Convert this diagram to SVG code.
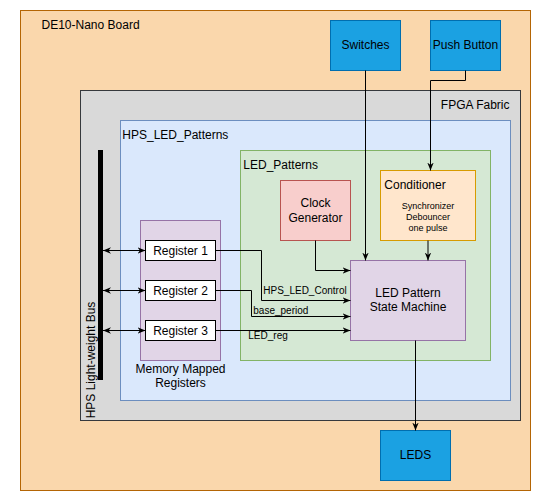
<svg xmlns="http://www.w3.org/2000/svg" width="541" height="501" viewBox="0 0 541 501">
<defs>
<marker id="arr" viewBox="0 0 10 10" refX="10" refY="5" markerWidth="8" markerHeight="8" markerUnits="userSpaceOnUse" orient="auto-start-reverse">
<path d="M0,1 L10,5 L0,9 L3,5 z" fill="#000"/>
</marker>
</defs>
<style>
text{font-family:"Liberation Sans",Arial,sans-serif;fill:#000}
.t12{font-size:12px}
.t10{font-size:10px}
.t9{font-size:9px}
.c{text-anchor:middle}
.e{text-anchor:end}
.w{fill:#1ba1e2;stroke:#006eaf}
.con{fill:none;stroke:#000;stroke-width:1}
</style>
<rect width="541" height="501" fill="#fff"/>
<g id="board">
<rect x="20.5" y="10.5" width="510" height="480" fill="#fad7ac" stroke="#b46504"/>
<text class="t12" x="41.5" y="29.3">DE10-Nano Board</text>
</g>
<g id="fpga">
<rect x="80.5" y="90.5" width="440" height="330" fill="#d9d9d9" stroke="#36393d"/>
<text class="t12 e" x="509.5" y="108.6">FPGA Fabric</text>
</g>
<g id="hps_led_patterns">
<rect x="120.5" y="120.5" width="390" height="280" fill="#dae8fc" stroke="#6c8ebf"/>
<text class="t12" x="122.3" y="139.3">HPS_LED_Patterns</text>
</g>
<g id="led_patterns">
<rect x="240.5" y="150.5" width="250" height="210" fill="#d5e8d4" stroke="#82b366"/>
<text class="t12" x="243.3" y="169">LED_Patterns</text>
</g>
<g id="bus">
<rect x="98" y="150" width="5" height="230" fill="#000"/>
<text class="t12 c" transform="translate(95.3,360) rotate(-90)">HPS Light-weight Bus</text>
</g>
<g id="memory_mapped">
<rect x="140.5" y="220.5" width="80" height="140" fill="#e1d5e7" stroke="#9673a6"/>
<text class="t12 c" x="180.5" y="372.6">Memory Mapped</text>
<text class="t12 c" x="180.5" y="386.6">Registers</text>
</g>
<g id="register1">
<rect x="145.5" y="240.5" width="70" height="20" fill="#fff" stroke="#000"/>
<text class="t12 c" x="180.5" y="254.6">Register 1</text>
</g>
<g id="register2">
<rect x="145.5" y="280.5" width="70" height="20" fill="#fff" stroke="#000"/>
<text class="t12 c" x="180.5" y="294.6">Register 2</text>
</g>
<g id="register3">
<rect x="145.5" y="320.5" width="70" height="20" fill="#fff" stroke="#000"/>
<text class="t12 c" x="180.5" y="334.6">Register 3</text>
</g>
<g id="clock_generator">
<rect x="280.5" y="180.5" width="70" height="60" fill="#f8cecc" stroke="#b85450"/>
<text class="t12 c" x="315.5" y="206.6">Clock</text>
<text class="t12 c" x="315.5" y="222">Generator</text>
</g>
<g id="conditioner">
<rect x="380.5" y="170.5" width="95" height="70" fill="#ffe6cc" stroke="#d79b00"/>
<text class="t12" x="384.3" y="188.6">Conditioner</text>
<text class="t9 c" x="428" y="209">Synchronizer</text>
<text class="t9 c" x="428" y="220.3">Debouncer</text>
<text class="t9 c" x="428" y="231.3">one pulse</text>
</g>
<g id="state_machine">
<rect x="350.5" y="260.5" width="115" height="80" fill="#e1d5e7" stroke="#9673a6"/>
<text class="t12 c" x="408" y="297">LED Pattern</text>
<text class="t12 c" x="408" y="311">State Machine</text>
</g>
<g id="switches">
<rect class="w" x="330.5" y="20.5" width="70" height="50"/>
<text class="t12 c" x="365.5" y="49.3">Switches</text>
</g>
<g id="push_button">
<rect class="w" x="430.5" y="20.5" width="70" height="50"/>
<text class="t12 c" x="465.5" y="49.3">Push Button</text>
</g>
<g id="leds">
<rect class="w" x="380.5" y="430.5" width="70" height="50"/>
<text class="t12 c" x="415.5" y="459.3">LEDS</text>
</g>
<g id="connectors">
<path class="con" d="M365.5,70.5 V260.5" marker-end="url(#arr)"/>
<path class="con" d="M465.5,70.5 V80.5 H430.5 V170.5" marker-end="url(#arr)"/>
<path class="con" d="M428,240.5 V260.5" marker-end="url(#arr)"/>
<path class="con" d="M315.5,240.5 V270.5 H350.5" marker-end="url(#arr)"/>
<path class="con" d="M215.5,250.5 H261.5 V300.5 H350.5" marker-end="url(#arr)"/>
<path class="con" d="M215.5,290.5 H251.5 V316.5 H350.5" marker-end="url(#arr)"/>
<path class="con" d="M215.5,330.5 H350.5" marker-end="url(#arr)"/>
<path class="con" d="M415.5,340.5 V430.5" marker-end="url(#arr)"/>
<path class="con" d="M103,250.5 H145.5" marker-start="url(#arr)" marker-end="url(#arr)"/>
<path class="con" d="M103,290.5 H145.5" marker-start="url(#arr)" marker-end="url(#arr)"/>
<path class="con" d="M103,330.5 H145.5" marker-start="url(#arr)" marker-end="url(#arr)"/>
<text class="t10" x="263.3" y="294.3">HPS_LED_Control</text>
<text class="t10" x="253.3" y="314.3">base_period</text>
<text class="t10" x="248.3" y="338.6">LED_reg</text>
</g>
</svg>
